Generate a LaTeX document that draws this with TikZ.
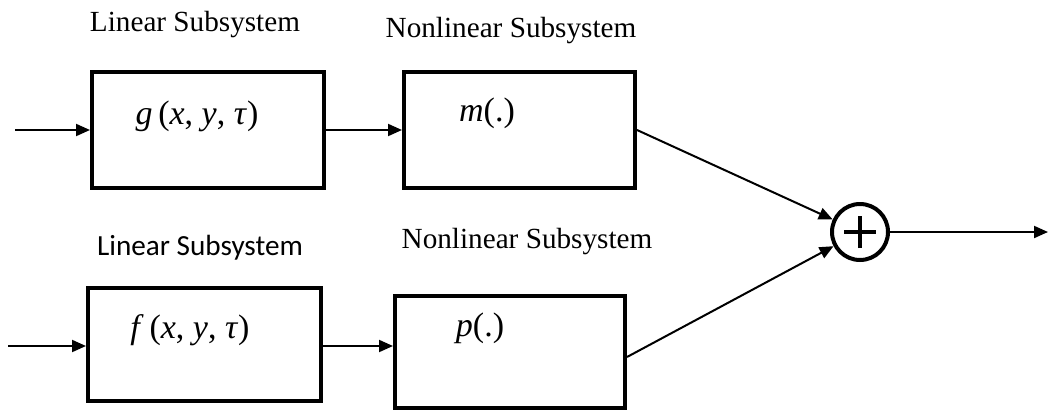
\documentclass[tikz,border=0pt]{standalone}
\usepackage{fontspec}
\setmainfont{Liberation Serif}
\newfontfamily\calib{Carlito}
\usetikzlibrary{arrows.meta}
\begin{document}
\begin{tikzpicture}[x=0.5pt,y=-0.5pt,
  blk/.style={draw, line width=2pt, rectangle, inner sep=0pt},
  lbl/.style={font=\fontsize{14.6}{17}\selectfont, anchor=base, inner sep=0pt},
  mth/.style={font=\fontsize{17}{19}\selectfont, anchor=base, inner sep=0pt},
  arr/.style={line width=1pt, -{Triangle[length=7pt,width=6pt]}},
  ln/.style={line width=1pt}]
\useasboundingbox (0,0) rectangle (1049,412);
% boxes
\node[blk, minimum width=116pt, minimum height=58pt] (g) at (208,130) {};
\node[blk, minimum width=115.5pt, minimum height=58pt] (m) at (519.5,130) {};
\node[blk, minimum width=116.5pt, minimum height=56.5pt] (f) at (204.5,344.5) {};
\node[blk, minimum width=115pt, minimum height=56pt] (p) at (510,352) {};
% sum
\node[draw, circle, line width=2pt, minimum size=28pt, inner sep=0pt] (s) at (860,232) {};
\draw[line width=1.8pt] ([xshift=-8pt]s.center) -- ([xshift=8pt]s.center)
  ([yshift=-8pt]s.center) -- ([yshift=8pt]s.center);
% labels
\node[lbl] (l1) at (195,32) {Linear Subsystem};
\node[lbl] (l2) at (511,37) {Nonlinear Subsystem};
\node[lbl, font=\calib\fontsize{14.6}{17}\selectfont] (l3) at (200,255) {Linear Subsystem};
\node[lbl] (l4) at (527,248) {Nonlinear Subsystem};
% inner texts
\node[mth] (tg) at (197,124) {\textit{g}\,(\textit{x}, \textit{y}, \textit{τ})};
\node[mth] (tm) at (487,121) {\textit{m}(.)};
\node[mth] (tf) at (190,338) {\textit{f}\,(\textit{x}, \textit{y}, \textit{τ})};
\node[mth] (tp) at (480,336) {\textit{p}(.)};
% connectors
\coordinate (in1) at (15,130);
\coordinate (in2) at (8,346);
\coordinate (out) at (1048,232);
\draw[arr] (in1) -- (in1 -| g.west);
\draw[arr] (in2) -- (in2 -| f.west);
\draw[arr] (g.east) -- (m.west);
\draw[arr] (f.east |- in2) -- (in2 -| p.west);
\draw[arr] (m.east) -- (s);
\draw[arr] ([yshift=-2.5pt]p.east) -- (s);
\draw[arr] (s.east) -- (out);
\end{tikzpicture}
\end{document}
